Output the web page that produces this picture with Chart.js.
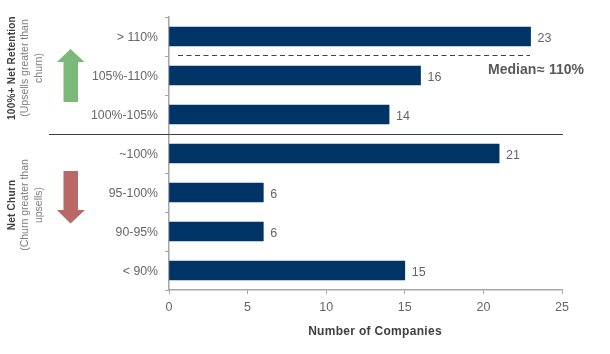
<!DOCTYPE html>
<html>
<head>
<meta charset="utf-8">
<style>
  html, body { margin: 0; padding: 0; background: #fff; }
  canvas { display: block; }
</style>
<script src="https://cdn.jsdelivr.net/npm/chart.js@4"></script>
</head>
<body>
<canvas id="chart" width="610" height="354"></canvas>
<script>
const categorias = ["> 110%", "105%-110%", "100%-105%", "~100%", "95-100%", "90-95%", "< 90%"];
const companias = [23, 16, 14, 21, 6, 6, 15];
const ticksX = [0, 5, 10, 15, 20, 25];

const FUENTE = "'Liberation Sans', Arial, sans-serif";
const GRIS = "#666666";

function flecha(ctx, puntos, color) {
  ctx.fillStyle = color;
  ctx.beginPath();
  puntos.forEach((p, i) => (i ? ctx.lineTo(p[0], p[1]) : ctx.moveTo(p[0], p[1])));
  ctx.closePath();
  ctx.fill();
}

function textoVertical(ctx, lineas, cx, cy) {
  ctx.save();
  ctx.translate(cx, cy);
  ctx.rotate(-Math.PI / 2);
  ctx.textAlign = "center";
  ctx.textBaseline = "middle";
  lineas.forEach((l) => {
    ctx.font = l.font;
    ctx.letterSpacing = l.espacio || "0px";
    ctx.fillStyle = l.color;
    ctx.fillText(l.texto, 0, l.dy);
  });
  ctx.restore();
}

// values next to the bars, plus the notes around the plot
const anotaciones = {
  id: "anotaciones",
  afterDatasetsDraw(chart) {
    const { ctx, scales } = chart;
    ctx.save();

    ctx.font = "12.5px " + FUENTE;
    ctx.fillStyle = GRIS;
    ctx.textAlign = "left";
    ctx.textBaseline = "middle";
    chart.getDatasetMeta(0).data.forEach((barra, i) => {
      ctx.fillText(String(companias[i]), barra.x + 7, barra.y + 2);
    });

    // median line
    ctx.strokeStyle = "#404040";
    ctx.lineWidth = 1;
    ctx.setLineDash([5, 3.5]);
    ctx.beginPath();
    ctx.moveTo(178, 55.5);
    ctx.lineTo(530, 55.5);
    ctx.stroke();
    ctx.setLineDash([]);

    // separator between the two groups
    ctx.strokeStyle = "#404040";
    ctx.beginPath();
    ctx.moveTo(49, 134.5);
    ctx.lineTo(scales.x.right + 1, 134.5);
    ctx.stroke();

    ctx.font = "bold 14px " + FUENTE;
    ctx.fillStyle = "#595959";
    ctx.textAlign = "left";
    ctx.fillText("Median", 488, 70.5);
    ctx.fillText("≈", 537, 70);
    ctx.fillText("110%", 549, 70.5);

    ctx.font = "bold 12px " + FUENTE;
    ctx.letterSpacing = "0.3px";
    ctx.fillStyle = "#404040";
    ctx.textAlign = "center";
    ctx.fillText("Number of Companies", 375, 331.5);
    ctx.letterSpacing = "0px";

    flecha(ctx, [[70.5, 49], [84.5, 62], [78, 62], [78, 102], [63.5, 102], [63.5, 62], [57, 62]], "#7ab97a");
    flecha(ctx, [[63.5, 171], [78, 171], [78, 210], [85, 210], [70.5, 223.5], [57, 210], [63.5, 210]], "#b96767");

    const negrita = "bold 10px " + FUENTE;
    const normal = "10.5px " + FUENTE;
    textoVertical(ctx, [
      { texto: "100%+ Net Retention", font: negrita, color: "#404040", dy: 0, espacio: "0.25px" },
      { texto: "(Upsells greater than", font: normal, color: "#7f7f7f", dy: 13 },
      { texto: "churn)", font: normal, color: "#7f7f7f", dy: 27.5 }
    ], 12, 68);
    textoVertical(ctx, [
      { texto: "Net Churn", font: negrita, color: "#404040", dy: 0, espacio: "0.25px" },
      { texto: "(Churn greater than", font: normal, color: "#7f7f7f", dy: 13 },
      { texto: "upsells)", font: normal, color: "#7f7f7f", dy: 27.5 }
    ], 12, 205);

    ctx.restore();
  }
};

new Chart(document.getElementById("chart").getContext("2d"), {
  type: "bar",
  data: {
    labels: categorias,
    datasets: [{
      label: "Number of Companies",
      data: companias,
      backgroundColor: "#003366",
      borderWidth: 0,
      barThickness: 19
    }]
  },
  options: {
    indexAxis: "y",
    responsive: false,
    animation: false,
    layout: { padding: { top: 17, right: 48, left: 0, bottom: 0 } },
    plugins: { legend: { display: false }, tooltip: { enabled: false } },
    scales: {
      x: {
        min: 0,
        max: 25,
        afterBuildTicks(axis) {
          axis.ticks = ticksX.map((v) => ({ value: v }));
        },
        afterFit(axis) { axis.height = 64; },
        grid: { drawOnChartArea: false, tickLength: 4, color: "#a6a6a6", offset: false },
        border: { color: "#a6a6a6", width: 1.5 },
        ticks: { color: GRIS, font: { family: FUENTE, size: 12.5 }, padding: 6, maxRotation: 0 }
      },
      y: {
        afterFit(axis) { axis.width = 169; },
        grid: { drawOnChartArea: false, tickLength: 4, color: "#a6a6a6", offset: true },
        border: { color: "#a6a6a6", width: 1.5 },
        ticks: { color: GRIS, font: { family: FUENTE, size: 12.3 }, padding: 7, labelOffset: 1.5 }
      }
    }
  },
  plugins: [anotaciones]
});
</script>
</body>
</html>
